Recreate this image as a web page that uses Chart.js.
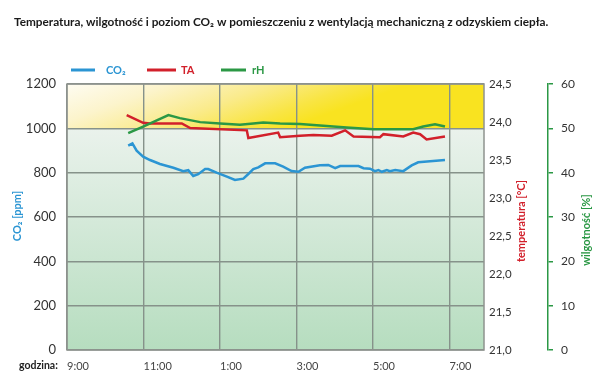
<!DOCTYPE html>
<html>
<head>
<meta charset="utf-8">
<script src="https://cdn.jsdelivr.net/npm/chart.js@4.4.1/dist/chart.umd.min.js"></script>
<style>
  html, body { margin: 0; padding: 0; background: #fff; }
  #wrap { width: 600px; height: 390px; }
</style>
</head>
<body>
<div id="wrap"><canvas id="chart"></canvas></div>
<script>
// hours (9 = 9:00, 13 = 1:00 pm ...)
const co2Hours = [10.60,10.71,10.82,10.99,11.17,11.43,11.78,12.04,12.17,12.30,12.43,12.61,12.69,12.91,13.18,13.39,13.61,13.74,13.87,14.00,14.18,14.44,14.65,14.87,15.05,15.22,15.61,15.83,16.01,16.14,16.62,16.75,16.92,17.05,17.14,17.23,17.36,17.44,17.58,17.79,18.01,18.18,18.49,18.88];
const co2Values = [922,932,899,872,857,839,822,807,811,785,793,816,816,800,782,767,773,794,816,824,842,842,827,807,804,822,833,835,820,830,830,820,818,807,812,804,812,807,812,807,833,847,851,857];

const taHours = [10.56,10.99,11.17,12.00,12.22,13.70,13.74,14.52,14.57,15.09,15.44,15.92,16.27,16.49,17.18,17.27,17.79,18.05,18.23,18.40,18.88];
const taValues = [24.09,23.99,23.98,23.98,23.92,23.89,23.79,23.86,23.80,23.82,23.83,23.82,23.89,23.81,23.80,23.84,23.81,23.86,23.84,23.77,23.81];

const rhHours = [10.60,10.99,11.65,11.95,12.48,13.00,13.52,13.87,14.13,14.57,15.09,15.44,16.31,17.01,18.05,18.31,18.62,18.88];
const rhValues = [48.9,50.4,53.0,52.3,51.4,51.1,50.8,51.1,51.3,51.1,51.0,50.75,50.2,49.8,49.8,50.4,50.9,50.4];

const hourTicks = [9, 11, 13, 15, 17, 19];
const hourLabels = ["9:00", "11:00", "1:00", "3:00", "5:00", "7:00"];

const blue = "#2b95d3";
const red = "#d2202b";
const green = "#2b9845";
const font = "Lato, 'Open Sans', sans-serif";

function toPoints(xs, ys) {
  return xs.map((x, i) => ({ x: x, y: ys[i] }));
}

function vText(ctx, text, x, y, color) {
  ctx.save();
  ctx.translate(x, y);
  ctx.rotate(-Math.PI / 2);
  ctx.fillStyle = color;
  ctx.textAlign = "center";
  ctx.textBaseline = "middle";
  ctx.fillText(text, 0, 0);
  ctx.restore();
}

// background bands, frame, title, legend, axis captions
const bgPlugin = {
  id: "bg",
  beforeDraw(chart) {
    const ctx = chart.ctx;
    const a = chart.chartArea;
    const y1000 = chart.scales.y.getPixelForValue(1000);
    ctx.save();
    let g = ctx.createLinearGradient(a.left, a.top, a.left + 40, a.top + 110);
    g.addColorStop(0, "#fefcf2");
    g.addColorStop(0.3, "#fcf4cc");
    g.addColorStop(0.6, "#faeb8c");
    g.addColorStop(0.85, "#f9e544");
    g.addColorStop(1, "#f9e320");
    ctx.fillStyle = g;
    ctx.fillRect(a.left, a.top, a.right - a.left, y1000 - a.top);
    g = ctx.createLinearGradient(0, y1000, 0, a.bottom);
    g.addColorStop(0, "#eaf2ec");
    g.addColorStop(1, "#b6ddbf");
    ctx.fillStyle = g;
    ctx.fillRect(a.left, y1000, a.right - a.left, a.bottom - y1000);
    ctx.restore();
  },
  afterDraw(chart) {
    const ctx = chart.ctx;
    const a = chart.chartArea;
    ctx.save();
    ctx.strokeStyle = "#8e938e";
    ctx.lineWidth = 1.5;
    ctx.strokeRect(a.left, a.top, a.right - a.left, a.bottom - a.top);

    // title
    ctx.fillStyle = "#1a1a1a";
    ctx.font = "bold 11.8px " + font;
    ctx.textBaseline = "alphabetic";
    ctx.textAlign = "left";
    ctx.fillText("Temperatura, wilgotność i poziom CO₂ w pomieszczeniu z wentylacją mechaniczną z odzyskiem ciepła.", 14, 26);

    // legend
    const items = [
      { label: "CO₂", color: blue, x0: 71, x1: 95, tx: 106 },
      { label: "TA", color: red, x0: 147, x1: 176, tx: 181 },
      { label: "rH", color: green, x0: 221, x1: 246, tx: 252 }
    ];
    ctx.font = "bold 11px " + font;
    ctx.textBaseline = "middle";
    items.forEach(it => {
      ctx.strokeStyle = it.color;
      ctx.lineWidth = 3;
      ctx.beginPath();
      ctx.moveTo(it.x0, 70);
      ctx.lineTo(it.x1, 70);
      ctx.stroke();
      ctx.fillStyle = it.color;
      ctx.fillText(it.label, it.tx, 70);
    });

    // axis captions
    ctx.font = "bold 11px " + font;
    vText(ctx, "CO₂ [ppm]", 17, 216, blue);
    vText(ctx, "temperatura [°C]", 521, 221, red);
    vText(ctx, "wilgotność [%]", 586, 230, green);

    ctx.fillStyle = "#222";
    ctx.font = "bold 10.5px " + font;
    ctx.textAlign = "left";
    ctx.textBaseline = "middle";
    ctx.fillText("godzina:", 19, 366);
    ctx.restore();
  }
};

const chart = new Chart(document.getElementById("chart"), {
  type: "line",
  data: {
    datasets: [
      {
        label: "rH",
        data: toPoints(rhHours, rhValues),
        yAxisID: "yH",
        borderColor: green,
        borderWidth: 2.5,
        pointRadius: 0,
        tension: 0
      },
      {
        label: "TA",
        data: toPoints(taHours, taValues),
        yAxisID: "yT",
        borderColor: red,
        borderWidth: 2.5,
        pointRadius: 0,
        tension: 0
      },
      {
        label: "CO₂",
        data: toPoints(co2Hours, co2Values),
        yAxisID: "y",
        borderColor: blue,
        borderWidth: 2.5,
        pointRadius: 0,
        tension: 0
      }
    ]
  },
  options: {
    responsive: true,
    maintainAspectRatio: false,
    animation: false,
    layout: { padding: { top: 84, left: 0, right: 0, bottom: 0 } },
    plugins: {
      legend: { display: false },
      tooltip: { enabled: false }
    },
    scales: {
      x: {
        type: "linear",
        min: 9,
        max: 19.9,
        afterBuildTicks: (scale) => {
          scale.ticks = hourTicks.map(v => ({ value: v }));
        },
        afterFit: (scale) => { scale.height = 40; },
        ticks: {
          align: "start",
          padding: 10,
          color: "#444",
          font: { family: font, size: 11 },
          callback: (v) => hourLabels[hourTicks.indexOf(v)]
        },
        grid: { color: "#86928a", lineWidth: 1.4, drawTicks: false },
        border: { display: false }
      },
      y: {
        position: "left",
        min: 0,
        max: 1200,
        ticks: {
          stepSize: 200,
          padding: 11,
          color: "#333",
          font: { family: font, size: 13 },
          callback: (v) => String(v)
        },
        afterFit: (scale) => { scale.width = 67; },
        grid: { color: "#86928a", lineWidth: 1.4, drawTicks: false },
        border: { display: false }
      },
      yT: {
        position: "right",
        min: 21,
        max: 24.5,
        ticks: {
          stepSize: 0.5,
          padding: 5,
          color: "#333",
          font: { family: font, size: 11.5 },
          callback: (v) => v.toFixed(1).replace(".", ",")
        },
        afterFit: (scale) => { scale.width = 64; },
        grid: { display: true, drawOnChartArea: false, drawTicks: false },
        border: { display: false }
      },
      yH: {
        position: "right",
        min: 0,
        max: 60,
        ticks: {
          stepSize: 10,
          padding: 8,
          color: "#333",
          font: { family: font, size: 12 }
        },
        afterFit: (scale) => { scale.width = 52; },
        grid: { drawOnChartArea: false, color: green, lineWidth: 1.5, tickLength: 5 },
        border: { display: true, color: green, width: 1.5 }
      }
    }
  },
  plugins: [bgPlugin]
});
</script>
</body>
</html>
